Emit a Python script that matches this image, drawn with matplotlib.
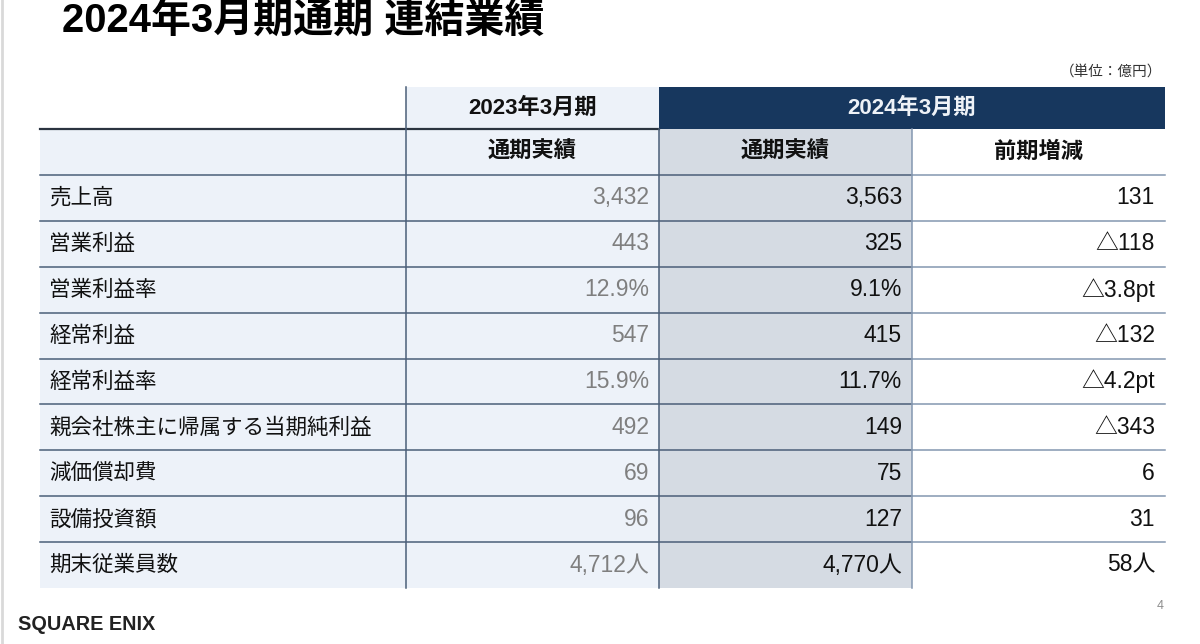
import matplotlib

matplotlib.use("Agg")
import matplotlib.pyplot as plt  # noqa: E402
from matplotlib.patches import Rectangle  # noqa: E402

plt.rcParams["font.family"] = ["Liberation Sans", "Noto Sans CJK JP", "DejaVu Sans"]

# ---- data (億円, %, 人) ----
TITLE = "2024年3月期通期 連結業績"
UNIT = "（単位：億円）"
PERIODS = ["2023年3月期", "2024年3月期"]
SUBHEADS = ["通期実績", "通期実績", "前期増減"]
ITEMS = ["売上高", "営業利益", "営業利益率", "経常利益", "経常利益率",
         "親会社株主に帰属する当期純利益", "減価償却費", "設備投資額", "期末従業員数"]
KINDS = ["yen", "yen", "pct", "yen", "pct", "yen", "yen", "yen", "people"]
FY2023 = [3432, 443, 12.9, 547, 15.9, 492, 69, 96, 4712]
FY2024 = [3563, 325, 9.1, 415, 11.7, 149, 75, 127, 4770]
CHANGE = [131, -118, -3.8, -132, -4.2, -343, 6, 31, 58]

NAVY = "#17375e"; LIGHT = "#edf2f9"; SHADE = "#d5dbe3"
LINE = "#4b5f78"; LINE_LT = "#8497b0"; GRAY_TXT = "#7f7f7f"; INK = "#111111"


def fmt(v, kind, diff=False):
    sign = "△" if (diff and v < 0) else ""
    v = abs(v) if diff else v
    if kind == "pct":
        return f"{sign}{v:.1f}" + ("pt" if diff else "%")
    s = f"{sign}{v:,.0f}"
    return s + "人" if kind == "people" else s


fig = plt.figure(figsize=(12, 6.44), dpi=100, facecolor="white")
ax = fig.add_axes([0, 0, 1, 1])
ax.set_xlim(0, 1200); ax.set_ylim(644, 0); ax.axis("off")

# table geometry (pixel layout)
cols = [40, 406, 659, 912, 1165]
h_top, h_mid, body_top, body_bot = 87, 129, 175, 588
row_h = (body_bot - body_top) / len(ITEMS)

# backgrounds
ax.add_patch(Rectangle((cols[1], h_top), cols[2] - cols[1], h_mid - h_top, fc=LIGHT, ec="none"))
ax.add_patch(Rectangle((cols[2], h_top), cols[4] - cols[2], h_mid - h_top, fc=NAVY, ec="none"))
ax.add_patch(Rectangle((cols[0], h_mid), cols[2] - cols[0], body_bot - h_mid, fc=LIGHT, ec="none"))
ax.add_patch(Rectangle((cols[2], h_mid), cols[3] - cols[2], body_bot - h_mid, fc=SHADE, ec="none"))

# grid lines
ax.plot([cols[0], cols[2]], [h_mid, h_mid], color="#2b3440", lw=1.6)
for i in range(len(ITEMS)):
    y = body_top + i * row_h
    ax.plot([cols[0], cols[3]], [y, y], color=LINE, lw=1.1)
    ax.plot([cols[3], cols[4]], [y, y], color=LINE_LT, lw=1.1)
ax.plot([cols[1], cols[1]], [h_top, body_bot], color=LINE, lw=1.1)
ax.plot([cols[2], cols[2]], [h_mid, body_bot], color=LINE, lw=1.1)
ax.plot([cols[3], cols[3]], [h_mid, body_bot], color=LINE_LT, lw=1.1)

# headers
hs, ls, ns = 16, 15.5, 16.5
ax.text((cols[1] + cols[2]) / 2, (h_top + h_mid) / 2, PERIODS[0], ha="center", va="center",
        fontsize=hs, fontweight="bold", color=INK)
ax.text((cols[2] + cols[4]) / 2, (h_top + h_mid) / 2, PERIODS[1], ha="center", va="center",
        fontsize=hs, fontweight="bold", color="#eef2f7")
for j, s in enumerate(SUBHEADS):
    ax.text((cols[j + 1] + cols[j + 2]) / 2, (h_mid + body_top) / 2, s, ha="center", va="center",
            fontsize=hs, fontweight="bold", color=INK)

# body
for i, item in enumerate(ITEMS):
    yc = body_top + (i + 0.5) * row_h
    ax.text(cols[0] + 9, yc, item, ha="left", va="center", fontsize=ls, color=INK,
            family=["Noto Sans CJK JP", "DejaVu Sans"])
    ax.text(cols[2] - 10, yc, fmt(FY2023[i], KINDS[i]), ha="right", va="center",
            fontsize=ns, color=GRAY_TXT)
    ax.text(cols[3] - 10, yc, fmt(FY2024[i], KINDS[i]), ha="right", va="center",
            fontsize=ns, color=INK)
    ax.text(cols[4] - 10, yc, fmt(CHANGE[i], KINDS[i], diff=True), ha="right", va="center",
            fontsize=ns, color=INK)

# title, unit, footer
ax.text(62, 21, TITLE, ha="left", va="center", fontsize=28.8, fontweight="bold", color="black")
ax.text(1162, 72, UNIT, ha="right", va="center", fontsize=10.5, color="#333333")
ax.text(1160, 606, "4", ha="center", va="center", fontsize=9, color="#8c8c8c")
ax.text(18, 625, "SQUARE ENIX", ha="left", va="center", fontsize=14.3, fontweight="bold",
        color="#222222")
ax.plot([1.5, 1.5], [0, 644], color="#d9d9d9", lw=2)

fig.savefig("out.png", dpi=100, facecolor="white")
plt.close(fig)
